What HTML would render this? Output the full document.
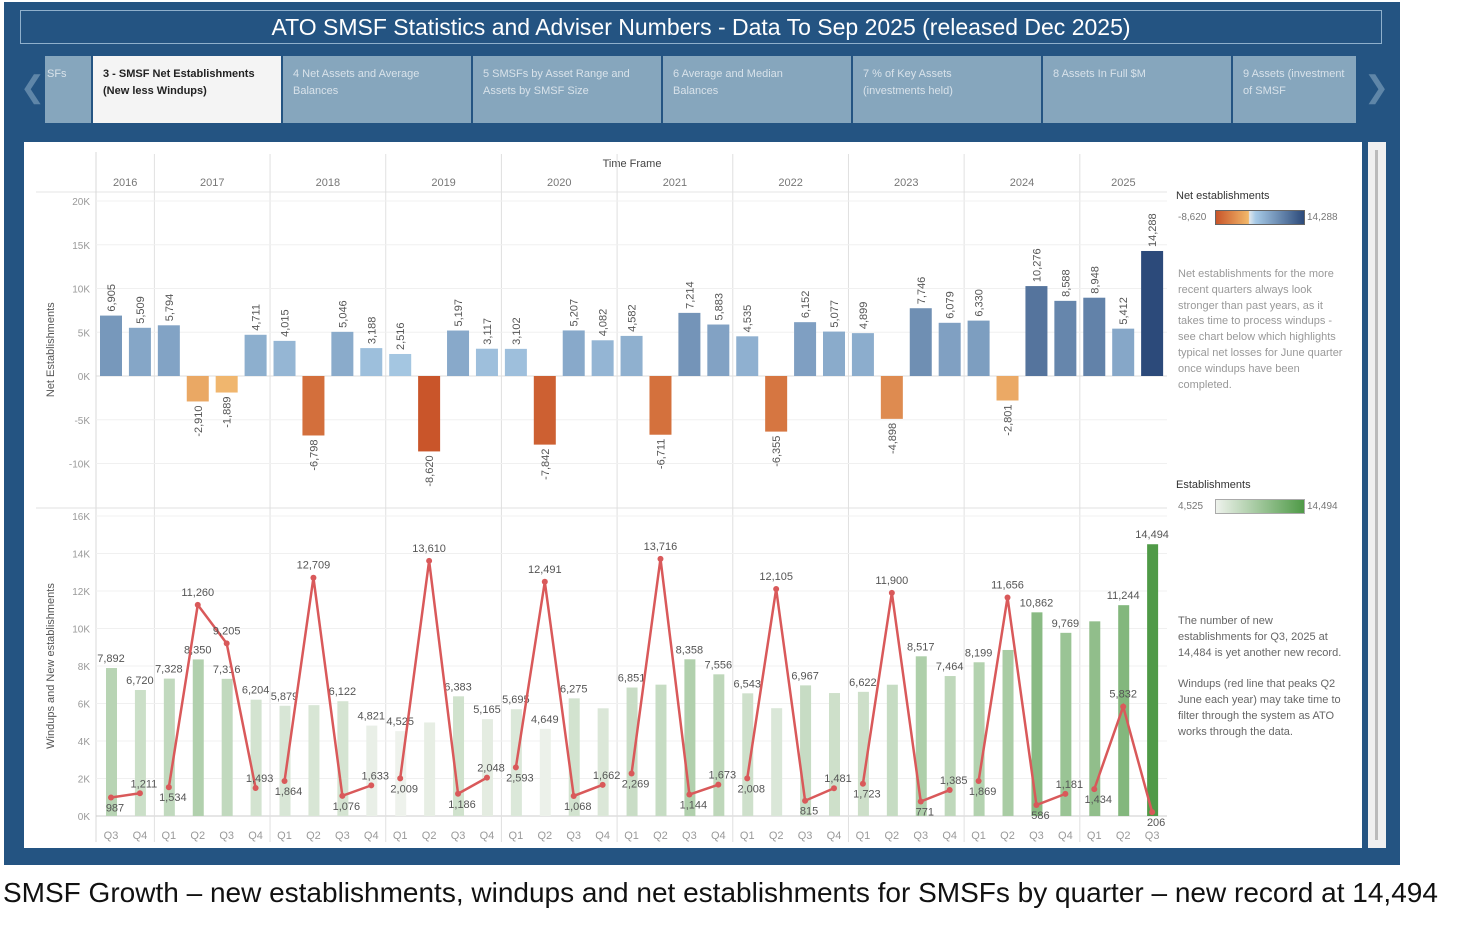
<!DOCTYPE html>
<html><head><meta charset="utf-8">
<style>
body{margin:0;width:1466px;height:934px;background:#fff;font-family:"Liberation Sans",sans-serif;position:relative;overflow:hidden}
#frame{position:absolute;left:4px;top:2px;width:1396px;height:863px;background:#245482}
#title{position:absolute;left:20px;top:10px;width:1360px;height:32px;border:1px solid #8fb0cc;color:#fff;font-size:23px;text-align:center;line-height:32px}
.tab{position:absolute;top:56px;height:67px;background:#86a6bd;color:#d8e2ea;font-size:11px;line-height:17px;padding:10px 0 0 10px;box-sizing:border-box;overflow:hidden;white-space:nowrap}
.tab.active{background:#f4f4f4;color:#222;font-weight:bold}
.arrow{position:absolute;top:70px;color:#5f86a8;font-size:30px}
#panel{position:absolute;left:24px;top:142px;width:1338px;height:706px;background:#fff}
#scroll{position:absolute;left:1368px;top:142px;width:18px;height:706px;background:#f0f0f0}
#scroll div{position:absolute;left:7px;top:8px;width:3px;height:690px;background:#bbb}
#caption{position:absolute;left:3px;top:877px;font-size:28px;color:#111;white-space:nowrap}
.note{position:absolute;font-size:11px;line-height:15.8px;color:#999}
.note2{color:#666}
</style></head><body>
<div id="frame">
</div>
<div id="title">ATO SMSF Statistics and Adviser Numbers - Data To Sep 2025 (released Dec 2025)</div>
<div class="arrow" style="left:20px">&#10094;</div>
<div class="arrow" style="left:1364px">&#10095;</div>
<div class="tab" style="left:45px;width:46px;padding-left:2px">SFs</div>
<div class="tab active" style="left:93px;width:188px">3 - SMSF Net Establishments<br>(New less Windups)</div>
<div class="tab" style="left:283px;width:188px">4 Net Assets and Average<br>Balances</div>
<div class="tab" style="left:473px;width:188px">5 SMSFs by Asset Range and<br>Assets by SMSF Size</div>
<div class="tab" style="left:663px;width:188px">6 Average and Median<br>Balances</div>
<div class="tab" style="left:853px;width:188px">7 % of Key Assets<br>(investments held)</div>
<div class="tab" style="left:1043px;width:188px">8 Assets In Full $M</div>
<div class="tab" style="left:1233px;width:123px">9 Assets (investment<br>of SMSF</div>
<div id="panel">
<svg id="chart" width="1338" height="706" style="position:absolute;left:0;top:0"></svg>
<div style="position:absolute;left:1152px;top:48px;font-size:11px;color:#333">Net establishments</div>
<div style="position:absolute;left:1154px;top:70px;font-size:10px;color:#777">-8,620</div>
<div style="position:absolute;left:1191px;top:68px;width:88px;height:13px;border:1px solid #666;background:linear-gradient(90deg,#c9552a,#f2b86a 37%,#dfe6ec 38%,#a6c9e6 45%,#2c4a7a)"></div>
<div style="position:absolute;left:1283px;top:70px;font-size:10px;color:#777">14,288</div>
<div class="note" style="left:1154px;top:125px;width:170px">Net establishments for the more recent quarters always look stronger than past years, as it takes time to process windups - see chart below which highlights typical net losses for June quarter once windups have been completed.</div>
<div style="position:absolute;left:1152px;top:337px;font-size:11px;color:#333">Establishments</div>
<div style="position:absolute;left:1154px;top:359px;font-size:10px;color:#777">4,525</div>
<div style="position:absolute;left:1191px;top:357px;width:88px;height:13px;border:1px solid #aaa;background:linear-gradient(90deg,#eef2ec,#4f9a47)"></div>
<div style="position:absolute;left:1283px;top:359px;font-size:10px;color:#777">14,494</div>
<div class="note note2" style="left:1154px;top:472px;width:170px">The number of new establishments for Q3, 2025 at 14,484 is yet another new record.<br><br>Windups (red line that peaks Q2 June each year) may take time to filter through the system as ATO works through the data.</div>
</div>
<div id="scroll"><div></div></div>
<div id="caption">SMSF Growth – new establishments, windups and net establishments for SMSFs by quarter – new record at 14,494</div>
<script>
const years=[2016,2016,2017,2017,2017,2017,2018,2018,2018,2018,2019,2019,2019,2019,2020,2020,2020,2020,2021,2021,2021,2021,2022,2022,2022,2022,2023,2023,2023,2023,2024,2024,2024,2024,2025,2025,2025];
const quarters=["Q3","Q4","Q1","Q2","Q3","Q4","Q1","Q2","Q3","Q4","Q1","Q2","Q3","Q4","Q1","Q2","Q3","Q4","Q1","Q2","Q3","Q4","Q1","Q2","Q3","Q4","Q1","Q2","Q3","Q4","Q1","Q2","Q3","Q4","Q1","Q2","Q3"];
const netValues=[6905,5509,5794,-2910,-1889,4711,4015,-6798,5046,3188,2516,-8620,5197,3117,3102,-7842,5207,4082,4582,-6711,7214,5883,4535,-6355,6152,5077,4899,-4898,7746,6079,6330,-2801,10276,8588,8948,5412,14288];
const establishments=[7892,6720,7328,8350,7316,6204,5879,5911,6122,4821,4525,4990,6383,5165,5695,4649,6275,5744,6851,7005,8358,7556,6543,5750,6967,6558,6622,7002,8517,7464,8199,8855,10862,9769,10382,11244,14494];
const windups=[987,1211,1534,11260,9205,1493,1864,12709,1076,1633,2009,13610,1186,2048,2593,12491,1068,1662,2269,13716,1144,1673,2008,12105,815,1481,1723,11900,771,1385,1869,11656,586,1181,1434,5832,206];
const netTicks=[20000,15000,10000,5000,0,-5000,-10000];
const estTicks=[16000,14000,12000,10000,8000,6000,4000,2000,0];
const estLabelShown=[1,1,1,1,1,1,1,0,1,1,1,0,1,1,1,1,1,0,1,0,1,1,1,0,1,0,1,0,1,1,1,0,1,1,0,1,1];

const svg=document.getElementById('chart');const NS='http://www.w3.org/2000/svg';
function el(tag,attrs,parent){const e=document.createElementNS(NS,tag);for(const k in attrs)e.setAttribute(k,attrs[k]);(parent||svg).appendChild(e);return e;}
const OX=24,OY=142;
const xC=i=>111-OX+28.92*i;
const yNet=v=>376-OY-v*0.00875;
const yEst=v=>816-OY-v*0.01875;
const plotL=96-OX,plotR=1167-OX;
const fmt=v=>v.toLocaleString('en-US');
function mix(a,b,t){t=Math.max(0,Math.min(1,t));const p=s=>[1,3,5].map(i=>parseInt(s.substr(i,2),16));const A=p(a),B=p(b);return 'rgb('+A.map((x,i)=>Math.round(x+(B[i]-x)*t)).join(',')+')';}
function netColor(v){if(v>=0)return mix('#a9cbe6','#2c4a7a',(v-2000)/12288);return mix('#f2bc72','#c9552a',(-v-1500)/7120);}
function estColor(v){return mix('#eef2ec','#4f9a47',(v-4525)/9969);}

let t=el('text',{x:608,y:25,'font-size':11,fill:'#444','text-anchor':'middle'});t.textContent='Time Frame';

el('line',{x1:12,x2:plotR,y1:50,y2:50,stroke:'#e4e4e4'});
el('line',{x1:plotL,x2:plotL,y1:10,y2:700,stroke:'#d8d8d8'});
el('line',{x1:12,x2:plotR,y1:366,y2:366,stroke:'#e0e0e0'});
el('line',{x1:plotL,x2:plotR,y1:yEst(0),y2:yEst(0),stroke:'#ccc'});
let start=0;
for(let i=1;i<=years.length;i++){
 if(i==years.length||years[i]!==years[start]){
  const xl=start==0?plotL:(xC(start)+xC(start-1))/2, xr=i==years.length?plotR:(xC(i)+xC(i-1))/2;
  if(i<years.length){el('line',{x1:xr,x2:xr,y1:12,y2:700,stroke:'#e0e0e0'});}
  const yt=el('text',{x:(xl+xr)/2,y:44,'font-size':11,fill:'#777','text-anchor':'middle'});yt.textContent=years[start];
  
  start=i;
 }
}
netTicks.forEach(v=>{el('line',{x1:plotL,x2:plotR,y1:yNet(v),y2:yNet(v),stroke:v==0?'#ddd':'#f0f0f0'});
 const tx=el('text',{x:plotL-6,y:yNet(v)+4,'font-size':10,fill:'#999','text-anchor':'end'});tx.textContent=(v/1000)+'K';
 });
estTicks.forEach(v=>{if(v)el('line',{x1:plotL,x2:plotR,y1:yEst(v),y2:yEst(v),stroke:'#f0f0f0'});
 const tx=el('text',{x:plotL-6,y:yEst(v)+4,'font-size':10,fill:'#999','text-anchor':'end'});tx.textContent=(v/1000)+'K';
 });
let a1=el('text',{transform:'translate(30,'+(yNet(3000))+') rotate(-90)','font-size':11,fill:'#555','text-anchor':'middle'});a1.textContent='Net Establishments';

let a2=el('text',{transform:'translate(30,'+(yEst(8000))+') rotate(-90)','font-size':11,fill:'#555','text-anchor':'middle'});a2.textContent='Windups and New establishments';

netValues.forEach((v,i)=>{const y0=yNet(0),y1=yNet(v);
 const r=el('rect',{x:xC(i)-11,y:Math.min(y0,y1),width:22,height:Math.abs(y1-y0),fill:netColor(v)});
 
 const ly=v>=0?y1-4:y1+4;
 const tx=el('text',{transform:'translate('+(xC(i)+4)+','+ly+') rotate(-90)','font-size':11,fill:'#555','text-anchor':v>=0?'start':'end'});tx.textContent=fmt(v);
 });
establishments.forEach((v,i)=>{
 const r=el('rect',{x:xC(i)-5,y:yEst(v),width:11,height:yEst(0)-yEst(v),fill:estColor(v)});
 
 if(estLabelShown[i]){const tx=el('text',{x:xC(i),y:yEst(v)-6,'font-size':11,fill:'#555','text-anchor':'middle'});tx.textContent=fmt(v);
 }
 const q=el('text',{x:xC(i),y:yEst(0)+23,'font-size':11,fill:'#999','text-anchor':'middle'});q.textContent=quarters[i];
 });
start=0;
for(let i=1;i<=years.length;i++){
 if(i==years.length||years[i]!==years[start]){
  let pts=[];for(let j=start;j<i;j++)pts.push(xC(j)+','+yEst(windups[j]));
  const pl=el('polyline',{points:pts.join(' '),fill:'none',stroke:'#d9595a','stroke-width':2.5});
  
  start=i;}
}
windups.forEach((v,i)=>{
 const c=el('circle',{cx:xC(i),cy:yEst(v),r:3,fill:'#d9595a'});
 
 const peak=v>5000;
 const tx=el('text',{x:xC(i)+(peak?0:4),y:peak?yEst(v)-9:yEst(v)+(quarters[i]=='Q4'?-6:14),'font-size':11,fill:'#555','text-anchor':'middle'});tx.textContent=fmt(v);
 });
</script>
</body></html>
